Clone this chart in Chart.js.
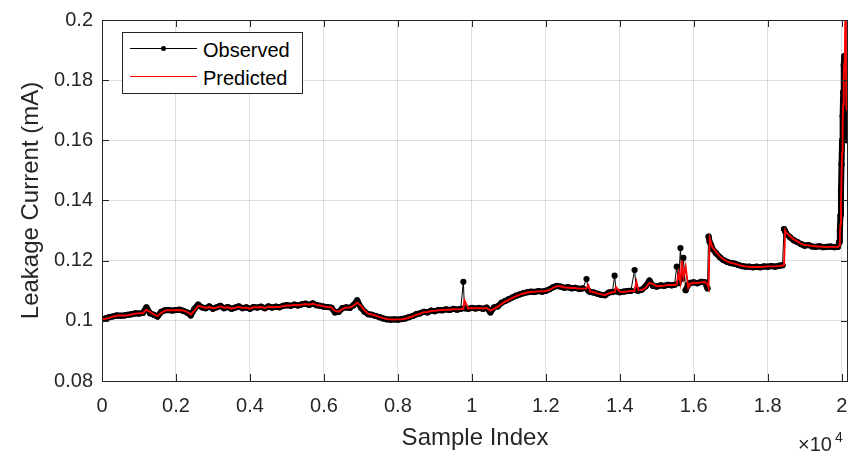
<!DOCTYPE html>
<html>
<head>
<meta charset="utf-8">
<script src="https://cdn.jsdelivr.net/npm/chart.js@4.4.1/dist/chart.umd.min.js"></script>
<style>
  html, body { margin: 0; padding: 0; background: #fff; }
  #wrap { position: relative; width: 852px; height: 455px; font-family: "Liberation Sans", Arial, Helvetica, sans-serif; }
  #c { position: absolute; left: 0; top: 0; }
  #legend { position: absolute; left: 122px; top: 32px; width: 179px; height: 60px; border: 1px solid #262626; background: #fff; }
  .lline { position: absolute; left: 7px; width: 67px; height: 1px; }
  .ldot { position: absolute; width: 5px; height: 5px; border-radius: 50%; background: #000; }
  .ltext { position: absolute; left: 80px; font-size: 20px; line-height: 24px; color: #000; white-space: nowrap; }
  #exp1 { position: absolute; left: 798px; top: 434px; font-size: 20px; line-height: 20px; color: #262626; white-space: nowrap; }
  #exp2 { position: absolute; left: 835px; top: 430px; font-size: 14px; line-height: 14px; color: #262626; }
</style>
</head>
<body>
<div id="wrap">
  <canvas id="c" width="852" height="455"></canvas>
  <div id="legend">
    <div class="lline" style="top:15px;background:#000"></div>
    <div class="ldot" style="left:38px;top:13px"></div>
    <div class="ltext" style="top:5px">Observed</div>
    <div class="lline" style="top:43px;background:#ff0000"></div>
    <div class="ltext" style="top:33px">Predicted</div>
  </div>
  <div id="exp1">×10</div>
  <div id="exp2">4</div>
</div>
<script>
// ---- data ----
const sampleIdx = [
  0,100,200,300,400,500,600,700,800,900,
  1000,1100,1200,1300,1400,1500,1600,1700,1800,1900,
  2000,2100,2200,2300,2400,2500,2600,2700,2800,2900,
  3000,3100,3200,3300,3400,3500,3600,3700,3800,3900,
  4000,4100,4200,4300,4400,4500,4600,4700,4800,4900,
  5000,5100,5200,5300,5400,5500,5600,5700,5800,5900,
  6000,6100,6200,6300,6400,6500,6600,6700,6800,6900,
  7000,7100,7200,7300,7400,7500,7600,7700,7800,7900,
  8000,8100,8200,8300,8400,8500,8600,8700,8800,8900,
  9000,9100,9200,9300,9400,9500,9600,9700,9770,9800,9900,
  10000,10100,10200,10300,10400,10500,10600,10700,10800,10900,
  11000,11100,11200,11300,11400,11500,11600,11700,11800,11900,
  12000,12100,12200,12300,12400,12500,12600,12700,12800,12900,
  13000,13100,13150,13200,13300,13400,13500,13600,13700,13800,13860,13900,
  14000,14100,14200,14300,14400,14450,14500,14600,14700,14800,14900,
  15000,15100,15200,15300,15400,15480,15540,15590,15640,15680,15720,15780,15850,15900,
  16000,16100,16200,16300,16370,16400,16430,16470,16500,16600,16700,16800,16900,
  17000,17100,17200,17300,17400,17500,17600,17700,17800,17900,
  18000,18100,18200,18300,18400,18440,18470,18500,18600,18700,18800,18900,
  19000,19100,19200,19300,19400,19500,19600,19700,19800,19900,19930,19950,19965,19980,19995,
  20010,20025,20040,20055,20070,20085,20100,20115,20130,20145,20160,20170
];
const observed = [
  0.1005,0.1008,0.1012,0.1015,0.1018,0.1017,0.1018,0.1020,0.1022,0.1025,
  0.1024,0.1026,0.1045,0.1025,0.1020,0.1014,0.1030,0.1035,0.1036,0.1034,
  0.1036,0.1037,0.1033,0.1028,0.1018,0.1040,0.1054,0.1045,0.1042,0.1048,
  0.1040,0.1045,0.1050,0.1042,0.1046,0.1040,0.1044,0.1048,0.1042,0.1045,
  0.1040,0.1046,0.1044,0.1047,0.1042,0.1048,0.1044,0.1047,0.1045,0.1050,
  0.1052,0.1050,0.1054,0.1051,0.1055,0.1057,0.1053,0.1058,0.1052,0.1050,
  0.1047,0.1046,0.1044,0.1028,0.1030,0.1042,0.1045,0.1043,0.1052,0.1068,
  0.1044,0.1030,0.1022,0.1020,0.1016,0.1012,0.1008,0.1005,0.1004,0.1005,
  0.1004,0.1006,0.1008,0.1012,0.1016,0.1022,0.1025,0.1030,0.1028,0.1034,
  0.1032,0.1036,0.1035,0.1038,0.1036,0.1040,0.1037,0.1040,0.1130,0.1042,0.1040,
  0.1043,0.1041,0.1043,0.1040,0.1044,0.1028,0.1045,0.1048,0.1060,0.1066,
  0.1072,0.1078,0.1084,0.1088,0.1092,0.1095,0.1097,0.1096,0.1099,0.1097,
  0.1100,0.1105,0.1112,0.1116,0.1114,0.1110,0.1112,0.1108,0.1110,0.1106,
  0.1108,0.1139,0.1100,0.1096,0.1094,0.1090,0.1086,0.1085,0.1094,0.1096,0.1150,0.1098,
  0.1095,0.1097,0.1099,0.1100,0.1169,0.1102,0.1100,0.1104,0.1115,0.1134,0.1116,
  0.1114,0.1118,0.1116,0.1120,0.1118,0.1120,0.1180,0.1125,0.1242,0.1140,0.1209,0.1102,0.1120,0.1126,
  0.1128,0.1125,0.1130,0.1128,0.1108,0.1280,0.1262,0.1252,0.1240,0.1225,0.1212,0.1202,0.1196,
  0.1192,0.1190,0.1186,0.1182,0.1180,0.1180,0.1178,0.1180,0.1178,0.1181,
  0.1180,0.1182,0.1180,0.1183,0.1185,0.1305,0.1298,0.1290,0.1278,0.1268,0.1262,0.1255,
  0.1250,0.1252,0.1247,0.1246,0.1248,0.1245,0.1246,0.1247,0.1245,0.1246,0.1262,0.1300,0.1350,0.1430,0.1520,
  0.1600,0.1680,0.1760,0.1850,0.1880,0.1820,0.1860,0.1640,0.1870,0.1600,0.1880,0.1850
];
const predicted = [
  0.1006,0.1007,0.1010,0.1014,0.1017,0.1018,0.1017,0.1019,0.1021,0.1024,
  0.1025,0.1025,0.1036,0.1030,0.1021,0.1016,0.1026,0.1034,0.1035,0.1035,
  0.1035,0.1036,0.1034,0.1030,0.1021,0.1034,0.1050,0.1047,0.1043,0.1046,
  0.1042,0.1044,0.1048,0.1044,0.1045,0.1041,0.1043,0.1047,0.1043,0.1044,
  0.1041,0.1045,0.1045,0.1046,0.1043,0.1047,0.1045,0.1046,0.1046,0.1049,
  0.1051,0.1051,0.1053,0.1052,0.1054,0.1056,0.1054,0.1057,0.1053,0.1051,
  0.1048,0.1046,0.1045,0.1033,0.1030,0.1039,0.1044,0.1044,0.1050,0.1060,
  0.1050,0.1034,0.1024,0.1021,0.1017,0.1013,0.1009,0.1006,0.1005,0.1004,
  0.1005,0.1005,0.1007,0.1011,0.1015,0.1020,0.1024,0.1029,0.1029,0.1033,
  0.1033,0.1035,0.1036,0.1037,0.1037,0.1039,0.1038,0.1039,0.1040,0.1068,0.1041,
  0.1042,0.1042,0.1042,0.1041,0.1043,0.1034,0.1040,0.1047,0.1056,0.1064,
  0.1070,0.1076,0.1082,0.1087,0.1091,0.1094,0.1096,0.1097,0.1098,0.1098,
  0.1099,0.1103,0.1110,0.1115,0.1115,0.1111,0.1111,0.1109,0.1109,0.1107,
  0.1107,0.1108,0.1118,0.1098,0.1095,0.1091,0.1088,0.1086,0.1091,0.1095,0.1096,0.1112,
  0.1097,0.1096,0.1098,0.1099,0.1100,0.1130,0.1103,0.1102,0.1110,0.1126,0.1122,
  0.1115,0.1116,0.1117,0.1119,0.1119,0.1119,0.1121,0.1160,0.1128,0.1200,0.1145,0.1180,0.1110,0.1123,
  0.1127,0.1126,0.1128,0.1129,0.1122,0.1110,0.1275,0.1258,0.1245,0.1230,0.1215,0.1205,0.1198,
  0.1193,0.1190,0.1187,0.1183,0.1181,0.1180,0.1179,0.1179,0.1179,0.1180,
  0.1181,0.1181,0.1181,0.1182,0.1184,0.1186,0.1300,0.1293,0.1282,0.1271,0.1264,0.1257,
  0.1252,0.1251,0.1249,0.1247,0.1247,0.1246,0.1245,0.1246,0.1246,0.1245,0.1250,0.1280,0.1320,0.1390,0.1480,
  0.1560,0.1650,0.1720,0.1800,0.1860,0.1870,0.2060,0.1850,0.1700,0.1820,0.1700,0.1860
];
const xTickValues = [0,2000,4000,6000,8000,10000,12000,14000,16000,18000,20000];
const xTickLabels = ['0','0.2','0.4','0.6','0.8','1','1.2','1.4','1.6','1.8','2'];
const yTickValues = [0.08,0.10,0.12,0.14,0.16,0.18,0.20];
const yTickLabels = ['0.08','0.1','0.12','0.14','0.16','0.18','0.2'];
const seriesNames = ['Observed','Predicted'];
const axisTitles = { x: 'Sample Index', y: 'Leakage Current (mA)' };

// ---- chart ----
const AX = '#262626';
Chart.defaults.font.family = '"Liberation Sans", Arial, Helvetica, sans-serif';
Chart.defaults.color = AX;

const boxPlugin = {
  id: 'matlabBox',
  afterDatasetsDraw(chart) {
    const { ctx, chartArea: { left, right, top, bottom }, scales: { x, y } } = chart;
    ctx.save();
    ctx.strokeStyle = AX;
    ctx.lineWidth = 1;
    ctx.beginPath();
    x.ticks.forEach(t => {
      const px = Math.round(x.getPixelForValue(t.value)) + 0.5;
      ctx.moveTo(px, bottom); ctx.lineTo(px, bottom - 7);
      ctx.moveTo(px, top); ctx.lineTo(px, top + 7);
    });
    y.ticks.forEach(t => {
      const py = Math.round(y.getPixelForValue(t.value)) + 0.5;
      ctx.moveTo(left, py); ctx.lineTo(left + 7, py);
      ctx.moveTo(right, py); ctx.lineTo(right - 7, py);
    });
    ctx.stroke();
    ctx.strokeRect(Math.round(left) + 0.5, Math.round(top) + 0.5, Math.round(right - left) - 1, Math.round(bottom - top));
    ctx.restore();
  }
};

const obsData = sampleIdx.map((v, i) => ({ x: v, y: observed[i] }));
const predData = sampleIdx.map((v, i) => ({ x: v, y: predicted[i] }));

// dense marker band: thick where the trace is flat or in the final dense surge, thin on isolated spikes
const thinSpike = c => Math.abs(c.p1.y - c.p0.y) > 9 && sampleIdx[c.p0DataIndex] < 19900;

new Chart(document.getElementById('c'), {
  type: 'line',
  data: {
    datasets: [
      { label: seriesNames[0], data: obsData, borderColor: '#000', backgroundColor: '#000',
        borderWidth: 1, pointRadius: 3.1, pointBorderWidth: 0, pointBackgroundColor: '#000',
        borderJoinStyle: 'round', borderCapStyle: 'round',
        segment: { borderWidth: c => thinSpike(c) ? 1 : 6 },
        tension: 0, order: 1 },
      { label: seriesNames[1], data: predData, borderColor: '#ff0000', backgroundColor: '#ff0000',
        borderWidth: 1.9, pointRadius: 0, tension: 0, order: 0 }
    ]
  },
  options: {
    responsive: false,
    animation: false,
    events: [],
    layout: { padding: { top: 20, right: 2, left: 0, bottom: 0 } },
    plugins: { legend: { display: false }, tooltip: { enabled: false } },
    scales: {
      x: {
        type: 'linear', min: 0, max: 20170,
        afterBuildTicks: s => { s.ticks = xTickValues.map(v => ({ value: v })); },
        afterFit: s => { s.height = 74; s.paddingLeft = 0; s.paddingRight = 0; },
        ticks: { callback: (v, i) => xTickLabels[i], font: { size: 20 }, color: AX,
                 padding: 13, maxRotation: 0, autoSkip: false },
        grid: { color: 'rgba(38,38,38,0.15)', drawTicks: false },
        border: { display: false },
        title: { display: true, text: axisTitles.x, font: { size: 24 }, color: AX,
                 padding: { top: 0, bottom: 2 } }
      },
      y: {
        type: 'linear', min: 0.08, max: 0.2,
        afterBuildTicks: s => { s.ticks = yTickValues.map(v => ({ value: v })); },
        afterFit: s => { s.width = 102; s.paddingTop = 0; s.paddingBottom = 0; },
        ticks: { callback: (v, i) => yTickLabels[i], font: { size: 20 }, color: AX,
                 padding: 9, autoSkip: false },
        grid: { color: 'rgba(38,38,38,0.15)', drawTicks: false },
        border: { display: false },
        title: { display: true, text: axisTitles.y, font: { size: 24 }, color: AX,
                 padding: { top: 17, bottom: 0 } }
      }
    }
  },
  plugins: [boxPlugin]
});
</script>
</body>
</html>
